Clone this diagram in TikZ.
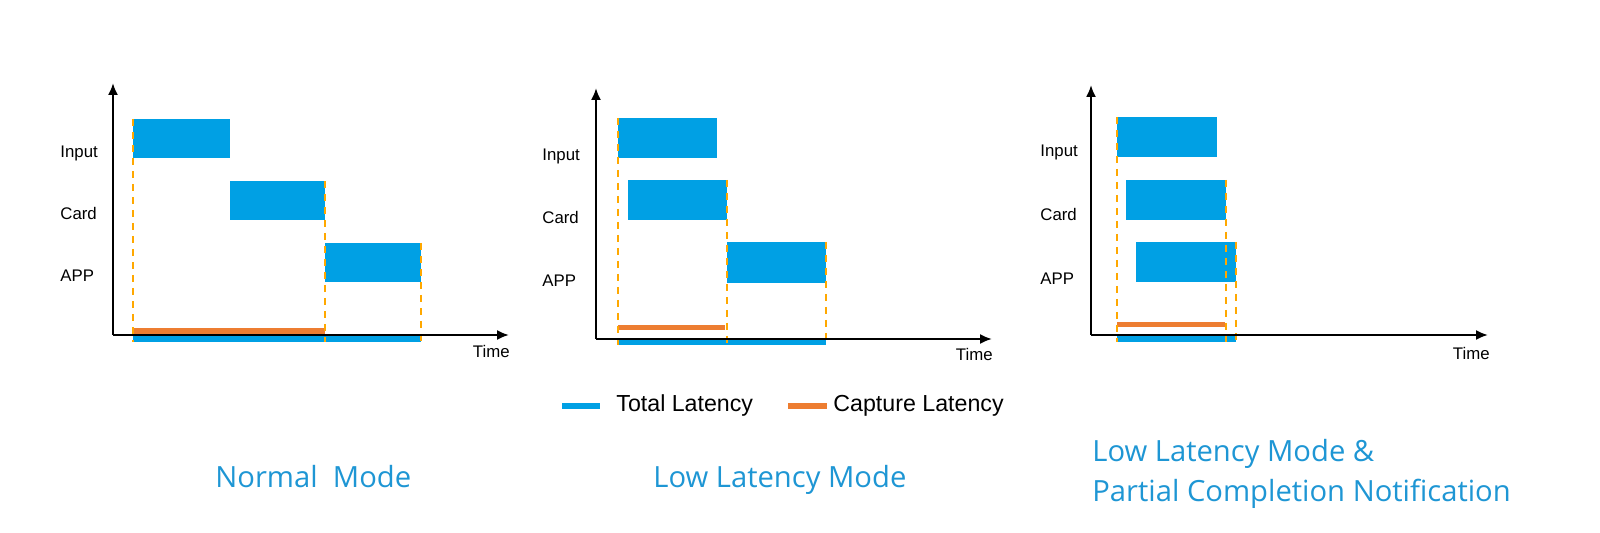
\documentclass[tikz,border=0pt]{standalone}
\usepackage{fontspec}
\setmainfont{Liberation Sans}
\newfontfamily\capfont{Open Sans}
\usetikzlibrary{arrows.meta}
\definecolor{barblue}{RGB}{0,160,228}
\definecolor{capblue}{RGB}{30,150,212}
\definecolor{latorange}{RGB}{237,125,49}
\definecolor{guideorange}{RGB}{255,168,0}

\begin{document}
\begin{tikzpicture}[x=0.5pt, y=-0.5pt,
    axis/.style={line width=1pt, -{Latex[length=6pt, width=5pt]}},
    guide/.style={guideorange, line width=1.3pt, dash pattern=on 3.5pt off 3pt},
    lbl/.style={font=\fontsize{8.4}{10}\selectfont, inner sep=0pt, anchor=base west},
    timelbl/.style={font=\fontsize{8.4}{10}\selectfont, inner sep=0pt, anchor=base east},
    legtxt/.style={font=\fontsize{11.6}{14}\selectfont, inner sep=0pt, anchor=base west},
    legline/.style={line width=3pt},
    caption/.style={font=\capfont\fontsize{14.6}{20}\selectfont, text=capblue, inner sep=0pt, align=left}]
    \useasboundingbox (0,0) rectangle (1600,533);

    % Normal Mode
    \foreach \name/\yb in {Input/158, Card/220, APP/282}
        \node[lbl] (n\name) at (60,\yb) {\name};
    \fill[barblue] (133,119) rectangle (230,158);
    \fill[barblue] (230,181) rectangle (325,220);
    \fill[barblue] (325,243) rectangle (421,282);
    \fill[latorange] (133,328) rectangle (325,335);
    \fill[barblue] (133,336) rectangle (421,342);
    \foreach \x/\ytop in {133/119, 325/181, 421/243}
        \draw[guide] (\x,\ytop) -- (\x,342);
    \coordinate (o1) at (113,335);
    \coordinate (ytop1) at (113,83);
    \coordinate (xend1) at (509,335);
    \draw[axis] (o1) -- (ytop1);
    \draw[axis] (o1) -- (xend1);
    \node[timelbl] (time1) at (510,358) {Time};

    % Low Latency Mode
    \foreach \name/\yb in {Input/161, Card/224, APP/287}
        \node[lbl] (l\name) at (542,\yb) {\name};
    \fill[barblue] (618,118) rectangle (717,158);
    \fill[barblue] (628,180) rectangle (727,220);
    \fill[barblue] (727,242) rectangle (826,283);
    \fill[latorange] (618,325) rectangle (725,330);
    \fill[barblue] (618,339) rectangle (826,345);
    \foreach \x/\ytop in {618/118, 727/180, 826/242}
        \draw[guide] (\x,\ytop) -- (\x,345);
    \coordinate (o2) at (596,339);
    \coordinate (ytop2) at (596,88);
    \coordinate (xend2) at (992,339);
    \draw[axis] (o2) -- (ytop2);
    \draw[axis] (o2) -- (xend2);
    \node[timelbl] (time2) at (993,361) {Time};

    % Low Latency Mode & Partial Completion Notification
    \foreach \name/\yb in {Input/157, Card/221, APP/285}
        \node[lbl] (p\name) at (1040,\yb) {\name};
    \fill[barblue] (1117,117) rectangle (1217,157);
    \fill[barblue] (1126,180) rectangle (1226,220);
    \fill[barblue] (1136,242) rectangle (1236,282);
    \fill[latorange] (1117,322) rectangle (1225,327);
    \fill[barblue] (1117,336) rectangle (1236,342);
    \foreach \x/\ytop in {1117/117, 1226/180, 1236/242}
        \draw[guide] (\x,\ytop) -- (\x,342);
    \coordinate (o3) at (1091,335);
    \coordinate (ytop3) at (1091,85);
    \coordinate (xend3) at (1488,335);
    \draw[axis] (o3) -- (ytop3);
    \draw[axis] (o3) -- (xend3);
    \node[timelbl] (time3) at (1490,360) {Time};

    % Leyenda
    \coordinate (tl1) at (562,406);
    \coordinate (tl2) at (600,406);
    \coordinate (cl1) at (788,406);
    \coordinate (cl2) at (827,406);
    \draw[legline, barblue] (tl1) -- (tl2);
    \draw[legline, latorange] (cl1) -- (cl2);
    \node[legtxt] (totlat) at (616,412) {Total Latency};
    \node[legtxt] (caplat) at (833,412) {Capture Latency};

    % Titulos
    \node[caption, anchor=base west] (capnormal) at (215,488) {Normal\ \ Mode};
    \node[caption, anchor=base west] (caplow) at (653,488) {Low Latency Mode};
    \node[caption, anchor=north west] (cappartial) at (1092,439) {Low Latency Mode \&\\Partial Completion Notification};
\end{tikzpicture}
\end{document}
